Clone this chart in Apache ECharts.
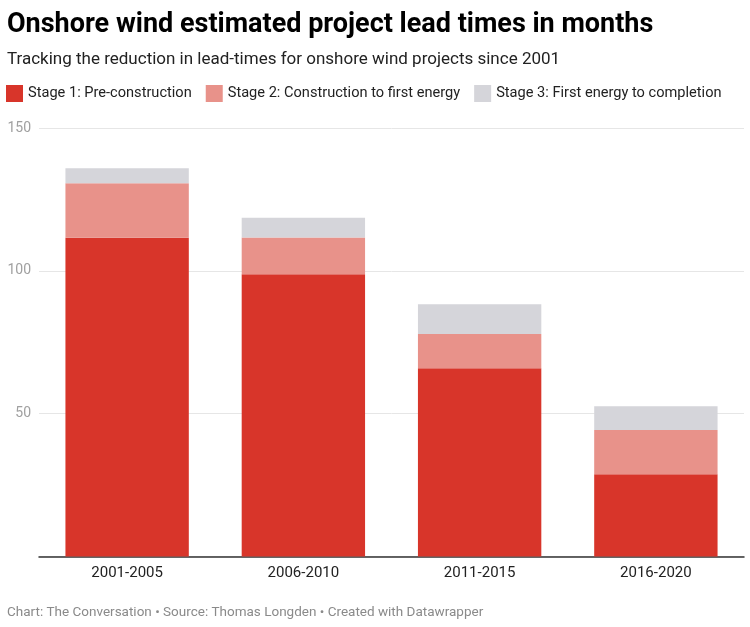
<!DOCTYPE html>
<html>
<head>
<meta charset="utf-8">
<script src="https://cdn.jsdelivr.net/npm/echarts@6/dist/echarts.min.js"></script>
<style>
html,body{margin:0;padding:0;background:#fff;}
#c{width:750px;height:627px;}
</style>
</head>
<body>
<div id="c"></div>
<script>
var categories = ['2001-2005', '2006-2010', '2011-2015', '2016-2020'];
var stage1 = [111.6, 98.8, 65.9, 28.8];
var stage2 = [19.1, 12.9, 12.0, 15.5];
var stage3 = [5.2, 6.9, 10.4, 8.3];
var seriesNames = ['Stage 1: Pre-construction', 'Stage 2: Construction to first energy', 'Stage 3: First energy to completion'];
var colors = ['#d8352a', '#e8928a', '#d5d5da'];

var chart = echarts.init(document.getElementById('c'));
var font = 'Roboto';
function mk(name, data, color) {
  return {
    name: name, type: 'bar', stack: 'total', data: data,
    barCategoryGap: '30%',
    itemStyle: { color: color },
    emphasis: { disabled: true }
  };
}
chart.setOption({
  animation: false,
  textStyle: { fontFamily: font },
  title: [{
    text: 'Onshore wind estimated project lead times in months',
    left: 7, top: 12, padding: 0,
    textStyle: { fontFamily: font, fontWeight: 'bold', fontSize: 27, color: '#000' }
  }, {
    text: 'Tracking the reduction in lead-times for onshore wind projects since 2001',
    left: 7, top: 51, padding: 0,
    textStyle: { fontFamily: font, fontWeight: 'normal', fontSize: 17, color: '#222' }
  }, {
    text: 'Chart: The Conversation • Source: Thomas Longden • Created with Datawrapper',
    left: 7, top: 606, padding: 0,
    textStyle: { fontFamily: font, fontWeight: 'normal', fontSize: 13.5, color: '#8a8a8a' }
  }],
  legend: {
    left: 6, top: 85, padding: 0,
    itemWidth: 17, itemHeight: 17, itemGap: 14,
    icon: 'rect',
    selectedMode: false,
    data: seriesNames,
    textStyle: { fontFamily: font, fontSize: 14.6, color: '#222' }
  },
  grid: { left: 39, right: 6, top: 128, bottom: 70.5, containLabel: false },
  xAxis: {
    type: 'category', data: categories,
    axisLine: { lineStyle: { color: '#333', width: 1.5 } },
    axisTick: { show: false },
    axisLabel: { color: '#222', fontSize: 15, margin: 9, fontFamily: font }
  },
  yAxis: {
    type: 'value', min: 0, max: 150, interval: 50,
    axisLine: { show: false }, axisTick: { show: false },
    splitLine: { lineStyle: { color: '#e6e6e6', width: 1 } },
    axisLabel: {
      color: '#a0a0a0', fontSize: 14, margin: 8, fontFamily: font,
      formatter: function (v) { return v === 0 ? '' : v; }
    }
  },
  series: [
    mk(seriesNames[0], stage1, colors[0]),
    mk(seriesNames[1], stage2, colors[1]),
    mk(seriesNames[2], stage3, colors[2])
  ]
});
</script>
</body>
</html>
